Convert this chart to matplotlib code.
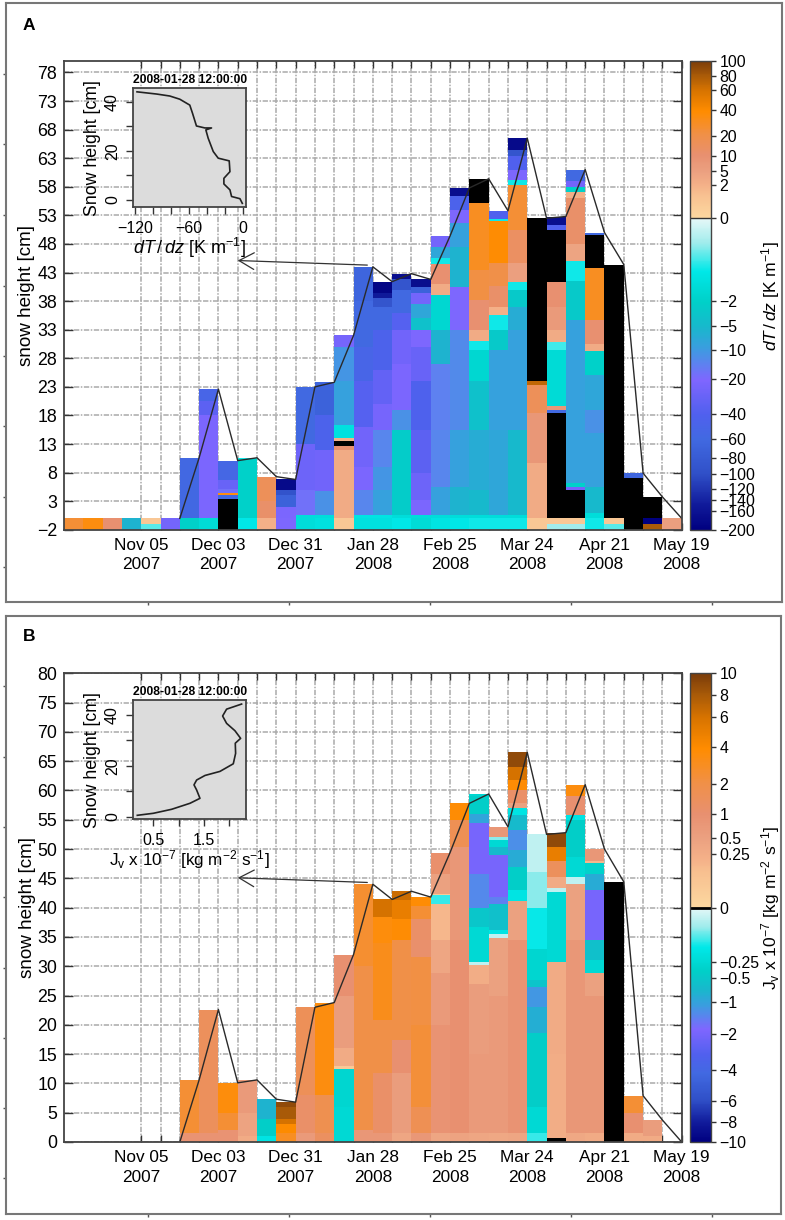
import numpy as np
import matplotlib
matplotlib.use('Agg')
import matplotlib.pyplot as plt
import matplotlib.dates as mdates
from matplotlib.colors import LinearSegmentedColormap, FuncNorm
from matplotlib.cm import ScalarMappable

plt.rcParams['font.family'] = ['Liberation Sans', 'DejaVu Sans']
plt.rcParams['mathtext.fontset'] = 'custom'
plt.rcParams['mathtext.rm'] = 'Liberation Sans'
plt.rcParams['mathtext.it'] = 'Liberation Sans:italic'
plt.rcParams['mathtext.bf'] = 'Liberation Sans:bold'

W, H = 785, 1220
nan = float('nan')

first_week = np.datetime64('2007-10-08')
date_ticks = ['2007-11-05', '2007-12-03', '2007-12-31', '2008-01-28',
              '2008-02-25', '2008-03-24', '2008-04-21', '2008-05-19']
date_labels = ['Nov 05\n2007', 'Dec 03\n2007', 'Dec 31\n2007', 'Jan 28\n2008',
               'Feb 25\n2008', 'Mar 24\n2008', 'Apr 21\n2008', 'May 19\n2008']

# snow height at end of each week
snow_height = [0, 0, 0, 0, 0, 0, 10.6, 22.6, 10.1, 10.6, 7.3, 6.8, 23, 23.8, 32, 44,
               41.4, 42.8, 41.8, 49.4, 57.8, 59.4, 53.8, 66.5, 52.5, 52.8, 61, 50,
               44.4, 7.9, 3.75, 0]

# every column: (top of layer in cm, value), nan = black
grad_cols = [
    [(0, 25)], [(0, 35)], [(0, 10)], [(0, -6)], [(-1, -0.9), (0, 1)], [(0, -25)],
    [(0, -2), (10.6, -58)],
    [(0, -1.7), (18, -22), (20.5, -35), (22.6, -50)],
    [(0, nan), (3.3, nan), (4, -60), (4.5, 35), (5.2, -18), (6.7, -30), (10.1, -55)],
    [(0, -1.3), (10.3, -2), (10.6, -1.2)],
    [(0, 2), (3, 12), (7.3, 16)],
    [(0, -20), (2, -22), (4, -70), (5, -95), (6.8, -180)],
    [(0, -1.6), (0.6, -1.6), (5, -18), (13, -28), (23, -60)],
    [(0, -1.5), (0.6, -1.6), (4.7, -12), (12, -26), (18, -45), (22.5, -70), (23.8, -65)],
    [(0, 1), (12, 3), (12.7, 10), (13.5, nan), (14, 2), (16.3, -1.5), (24, -9), (30, -11), (32, -24)],
    [(0, -1.5), (0.6, -1.4), (5, -14), (9, -22), (16, -26), (24, -38), (30, -50), (38, -60), (44, -65)],
    [(0, -1.5), (0.6, -1.4), (5, -9), (9, -11), (15.5, -14), (20, -24), (26, -32), (33, -45), (37, -60), (38.5, -90), (39.5, -150), (41.4, -190)],
    [(0, -1.3), (0.6, -1.6), (5.5, -2.5), (15.5, -2.5), (19, -12), (27, -22), (33, -26), (36, -38), (40, -60), (41.9, -90), (42.8, -170)],
    [(0, -1.7), (0.6, -1.6), (3.2, -22), (8, -28), (15.5, -35), (24, -42), (30, -30), (33, -20), (35, -4), (37.5, -8), (39.5, -25), (40.5, -70), (41.8, -170)],
    [(0, -1.4), (0.6, -1.6), (5.5, -9), (15.5, -14), (27, -15), (33, -6), (39, -1.8), (41, 3), (44.5, 10), (45.5, -1.2), (47.5, -8), (49.4, -25)],
    [(0, -1.3), (0.6, -1.6), (5.5, -6), (15.5, -9), (33, -13), (40.5, -20), (47.5, -6), (51.6, -9), (54, -20), (56.3, -45), (57.8, -170)],
    [(0, -1.2), (0.6, -1.6), (5, -5), (15.5, -7), (24, -4), (29.5, -1.8), (31, -1.2), (33, 3), (38.2, 10), (43.5, 22), (55.2, 30), (59.4, nan)],
    [(0, -1.2), (0.6, -1.6), (15.5, -8), (29.5, -9), (33, -3), (35.6, -1.2), (37, 2), (40.6, 12), (44.6, 20), (52, 38), (52.4, -1.2), (53.8, -40)],
    [(0, -1.2), (0.6, -1.6), (15.5, -5), (33, -9), (37, -7), (40, -3), (41.4, -1.2), (44.6, 5), (50.5, 14), (58.3, 25), (59.2, -1.2), (61, -20), (63.3, -40), (64.5, -90), (66.5, -180)],
    [(0, 1), (9.6, 3), (18.4, 8), (23.4, 16), (24, 70), (52.5, nan)],
    [(-1, -0.6), (0, 1), (18.5, nan), (19, -60), (19.6, 8), (29.5, -1.7), (30.9, -1), (33, 3), (37, 7), (41.4, 10), (50.5, nan), (51.3, -40), (52.8, -170)],
    [(-1, -0.6), (0, 1), (5, nan), (5.4, -25), (6.2, -2), (34.7, -9), (41.5, -3), (45, -1.2), (48, 4), (56, 12), (57, 2), (57.9, -2), (59, -25), (61, -60)],
    [(0, -1.2), (1, -1.6), (5.5, -5), (15, -9), (19, -12), (25, -8), (29.2, -2), (30.5, 3), (34.7, 10), (43.8, 30), (49.6, nan), (50, -60)],
    [(-1, -0.9), (0, 1), (44.4, nan)],
    [(0, nan), (7, nan), (7.9, -65)],
    [(-1, 80), (0, -200), (3.75, nan)],
    [(0, 5)],
]

flux_cols = [
    [], [], [], [], [], [],
    [(1.5, 0.9), (10.6, 2.5)],
    [(1.5, 0.9), (22.6, 1.5)],
    [(2, 0.9), (5, 2.5), (10.1, 3.6)],
    [(1, 0.3), (5, 0.45), (10.6, 0.7)],
    [(1, -0.2), (4, -0.4), (7.3, -0.8)],
    [(1.5, 3), (3, 4), (4, 6), (6, 8), (6.8, 9)],
    [(1.5, 0.7), (8, 1.2), (23, 1.6)],
    [(1.5, 1.4), (8, 1.8), (23.8, 3.5)],
    [(6, -0.25), (12.5, -0.3), (13, 0.1), (16, 0.3), (25, 0.6), (32, 1)],
    [(2, 0.8), (30, 2), (44, 2.6)],
    [(1.5, 0.8), (11.7, 1.2), (20.8, 2), (34, 3.2), (38.4, 3.6), (41.4, 6)],
    [(1.5, 0.4), (11.7, 0.6), (17.4, 1), (34.5, 2), (38, 3.8), (41.3, 5), (42.8, 6.5)],
    [(1.5, 0.8), (6, 1.7), (20, 2.4), (31.6, 2.1), (34.5, 1.1), (38, 1.2), (40.2, 2.5), (41.8, 3.8)],
    [(1.5, 0.4), (20, 0.9), (28.8, 0.7), (34.5, 0.4), (40.7, 0.2), (42.2, -0.15), (42.4, 0.1), (45.8, 0.5), (49.4, 1.1)],
    [(1.5, 0.45), (34.5, 1), (50.4, 0.8), (54.9, 1.7), (57.8, 3.8)],
    [(1.5, 0.4), (15, 0.7), (27, 0.6), (30.2, 0.25), (30.8, -0.05), (36.7, -0.25), (40, -0.5), (45.8, -1.4), (54.4, -2), (56, -1), (59, -0.4), (59.4, -0.3)],
    [(1.5, 0.35), (25, 0.7), (34.9, 0.5), (35.5, -0.05), (36.2, -0.2), (40.7, -0.6), (41.9, -1.5), (49, -2), (50.3, -0.7), (51.6, -0.25), (52.1, -0.1), (53.8, 0.8)],
    [(1.5, 0.4), (34.5, 0.9), (41.1, 0.5), (43, -0.2), (47, -0.4), (49.8, -0.9), (53.2, -1.3), (55.8, -0.7), (57, -0.2), (57.8, 0.5), (60, 1.2), (61.8, 3.8), (64, 6), (66.5, 9)],
    [(1.5, -0.15), (6, -0.25), (18.6, -0.42), (23, -0.85), (26.5, -1.2), (27.6, -0.55), (33, -0.3), (40, -0.18), (46, -0.1), (52.5, -0.05)],
    [(0.6, nan), (15, 0.25), (30.8, 0.3), (42.7, -0.25), (43.3, -0.05), (45.3, 0.3), (48, 1.5), (50.4, 5), (52.8, 9)],
    [(1.5, 0.35), (34.4, 0.8), (44.1, 0.5), (45.3, -0.05), (48.7, -0.25), (55, -0.4), (55.8, -0.2), (59, 1), (61, 3.5)],
    [(1.5, 0.3), (25, 0.8), (28.8, 0.5), (31, -0.25), (34.5, -0.6), (43, -2), (45.8, -0.9), (47.7, -0.35), (48, 0.2), (50, 0.8)],
    [(44.4, nan)],
    [(1.5, 0.3), (4.9, 1), (7.9, 2.5)],
    [(1, 0.3), (3.75, 0.6)],
    [],
]

# colorbar ticks, value and position on the bar (0 = bottom, 1 = top)
grad_ticks = [-200, -160, -140, -120, -100, -80, -60, -40, -20, -10, -5, -2, 0, 2, 5, 10, 20, 40, 60, 80, 100]
grad_labels = ['−200', '−160', '−140', '−120', '−100', '−80', '−60', '−40', '−20', '−10', '−5', '−2',
               '0', '2', '5', '10', '20', '40', '60', '80', '100']
grad_pos = [0, .040, .064, .088, .120, .153, .193, .247, .321, .384, .434, .487, .665, .736, .766, .797, .840, .895, .937, .968, 1]
flux_ticks = [-10, -8, -6, -4, -2, -1, -0.5, -0.25, 0, 0.25, 0.5, 1, 2, 4, 6, 8, 10]
flux_labels = ['−10', '−8', '−6', '−4', '−2', '−1', '−0.5', '−0.25', '0', '0.25', '0.5', '1', '2', '4', '6', '8', '10']
flux_pos = [0, .043, .088, .153, .231, .299, .349, .384, .5, .614, .648, .700, .764, .843, .907, .954, 1]

# color ramps on each side of zero, position from zero outwards
neg_ramp = [(0, '#e8f8f8'), (.08, '#a0ecec'), (.17, '#00e8e8'), (.27, '#00d0c8'), (.35, '#18b8cc'),
            (.42, '#3c9ce0'), (.52, '#7f66ff'), (.63, '#5060ee'), (.71, '#4169e1'), (.82, '#3050c8'),
            (.92, '#101a9a'), (1, '#000080')]
pos_ramp = [(0, '#fcd8a0'), (.15, '#f8c090'), (.21, '#f4b088'), (.30, '#eba080'), (.40, '#e89070'),
            (.53, '#f09048'), (.68, '#ff8c00'), (.81, '#d87400'), (.91, '#a85a08'), (1, '#7a3c0a')]

profile_grad = [-117.8, -96, -81.5, -70.4, -59.3, -56.3, -51.9, -42.6, -35.2, -41.5, -38.9, -33.3, -27.8,
                -15.6, -14.8, -21.5, -21.5, -14.8, -13, -3.7, -1.1]
profile_grad_h = [44, 43.1, 42.3, 41, 38.6, 35.3, 30.1, 29.3, 29.3, 28.5, 25.1, 19.7, 17,
                  15.9, 11.5, 8.8, 6.5, 4.1, 1.4, .5, -1.4]
profile_flux = [.184, .5, .862, 1.224, 1.421, 1.355, 1.303, 1.355, 1.52, 1.816, 2.079, 2.125, 2.118,
                2.224, 2.112, 1.947, 1.868, 1.947, 2.243]
profile_flux_h = [.52, 1.31, 2.89, 5.25, 7.2, 10.5, 12.5, 14.4, 16.2, 17.8, 20.8, 24.9, 28.9,
                  30.8, 33.8, 36.7, 39.6, 42.3, 44.3]


def px_axes(fig, x0, y0, x1, y1, **kw):
    return fig.add_axes([x0 / W, 1 - y1 / H, (x1 - x0) / W, (y1 - y0) / H], **kw)


def make_cmap(zero):
    stops = [(zero * (1 - u), c) for u, c in neg_ramp[::-1]]
    stops += [(zero + (1 - zero) * u, c) for u, c in pos_ramp]
    cmap = LinearSegmentedColormap.from_list('snow', stops, N=512)
    cmap.set_bad('black')
    return cmap


def make_norm(vals, pos):
    return FuncNorm((lambda v: np.interp(v, vals, pos), lambda p: np.interp(p, pos, vals)),
                    vmin=vals[0], vmax=vals[-1])


def outer_frame(fig, x0, y0, x1, y1, yt):
    fr = px_axes(fig, x0, y0, x1, y1, facecolor='none', zorder=0)
    fr.set_xlim(x0, x1)
    fr.set_ylim(y1, y0)
    fr.set_xticks([147.7, 288.7, 429.7, 570.7, 711.7])
    fr.set_yticks(yt)
    fr.set_xticklabels([])
    fr.set_yticklabels([])
    fr.tick_params(length=2.5, width=1, color='#555555')
    for s in fr.spines.values():
        s.set_color('#777777')
        s.set_linewidth(1.5)


def main_panel(fig, y0, y1, ylim, yticks, cols, base, cmap, norm):
    ax = px_axes(fig, 64, y0, 681.7, y1, zorder=2)
    week = mdates.date2num(first_week) + 7 * np.arange(33)
    for i, col in enumerate(cols):
        if not col:
            continue
        edges = [base] + [c[0] for c in col]
        vals = np.ma.masked_invalid(np.array([c[1] for c in col], dtype=float).reshape(-1, 1))
        ax.pcolormesh(week[i:i + 2], edges, vals, cmap=cmap, norm=norm, antialiased=False, zorder=2)
    ax.plot(week[6:], [0] + snow_height[6:], color='#2a2a2a', lw=1.0, zorder=3)
    ax.set_xlim(week[0], week[-1])
    ax.set_ylim(*ylim)
    ax.set_yticks(yticks)
    ax.set_xticks(mdates.date2num(np.array(date_ticks, dtype='datetime64[D]')))
    ax.set_xticklabels(date_labels, fontsize=12.4, linespacing=1.35)
    ax.set_xticks(week[4:], minor=True)
    ax.tick_params(axis='x', which='both', direction='in', top=True, length=5, width=1, color='#333333', pad=6)
    ax.tick_params(axis='y', direction='in', right=True, length=6.5, width=1, color='#333333', labelsize=12.8, pad=5)
    ax.grid(True, which='both', color='#aaaaaa', linestyle=(0, (3.5, 1, 1, 1)), lw=1.1, zorder=1)
    ax.set_axisbelow(True)
    ax.set_ylabel('snow height [cm]', fontsize=13.6, labelpad=1)
    for s in ax.spines.values():
        s.set_color('#444444')
        s.set_linewidth(1.3)
        s.set_zorder(4)
    return ax


def add_colorbar(fig, y0, y1, ticks, labels, cmap, norm, label, lab_y):
    cax = px_axes(fig, 690, y0, 711, y1, zorder=2)
    cb = fig.colorbar(ScalarMappable(norm=norm, cmap=cmap), cax=cax)
    cb.minorticks_off()
    cb.set_ticks(ticks, labels=labels)
    cb.ax.tick_params(length=3.5, width=1, color='#333333', labelsize=11.4, pad=2.5)
    cb.outline.set_edgecolor('#444444')
    cb.outline.set_linewidth(1)
    fig.text(771 / W, 1 - lab_y / H, label, rotation=90, ha='center', va='center', fontsize=12.6)
    return cb


def inset(fig, y0, y1, x, h, xlim, ylim, xt, xt_major, xlabel, xlab_size):
    ia = px_axes(fig, 133.3, y0, 246, y1, facecolor='#dcdcdc', zorder=3)
    ia.plot(x, h, color='#222222', lw=1.2)
    ia.set_xlim(*xlim)
    ia.set_ylim(*ylim)
    ia.set_xticks(xt)
    ia.set_xticklabels(xt_major, fontsize=11.5)
    ia.set_yticks([0, 10, 20, 30, 40])
    ia.set_yticklabels(['0', '', '20', '', '40'], fontsize=11.5, rotation=90, va='center')
    ia.tick_params(direction='out', length=5, width=1, color='#333333', pad=5)
    ia.tick_params(axis='y', pad=4.5)
    ia.set_title('2008-01-28 12:00:00', fontsize=8.7, fontweight='bold', pad=3.5)
    ia.set_xlabel(xlabel, fontsize=xlab_size, labelpad=0)
    ia.set_ylabel('Snow height [cm]', fontsize=12.8, labelpad=3)
    for s in ia.spines.values():
        s.set_color('#444444')
        s.set_linewidth(1.3)
    return ia


fig = plt.figure(figsize=(W / 100, H / 100), dpi=100)

outer_frame(fig, 6, 3, 781.7, 601.7, [74, 144, 215, 285.7, 356, 426, 496.7, 566.7])
outer_frame(fig, 6, 615.7, 780.7, 1214, [686, 756.7, 826.7, 896.7, 968, 1038, 1108, 1178])

fig.text(29 / W, 1 - 26 / H, 'A', fontsize=12.5, fontweight='bold', ha='center', va='center')
fig.text(29 / W, 1 - 637 / H, 'B', fontsize=12.5, fontweight='bold', ha='center', va='center')

# panel A
cm_a = make_cmap(grad_pos[grad_ticks.index(0)])
nm_a = make_norm(grad_ticks, grad_pos)
ax_a = main_panel(fig, 61, 529.8, (-2, 80), np.arange(-2, 79, 5), grad_cols, -2, cm_a, nm_a)
cb_a = add_colorbar(fig, 60.7, 530, grad_ticks, grad_labels, cm_a, nm_a,
                    r'$dT\,/\,dz$ [K m$^{-1}$]', 296)
cb_a.ax.axhline(0, color='#333333', lw=1)
inset(fig, 88, 207.3, profile_grad, profile_grad_h, (-121.9, 3), (-3, 45.56),
      [-120, -100, -80, -60, -40, -20, 0], ['−120', '', '', '−60', '', '', '0'],
      r'$dT\,/\,dz$ [K m$^{-1}$]', 13)

# panel B
cm_b = make_cmap(flux_pos[flux_ticks.index(0)])
nm_b = make_norm(flux_ticks, flux_pos)
ax_b = main_panel(fig, 673.3, 1142, (0, 80), np.arange(0, 81, 5), flux_cols, 0, cm_b, nm_b)
cb_b = add_colorbar(fig, 673.3, 1142, flux_ticks, flux_labels, cm_b, nm_b,
                    r'J$_{\mathrm{v}}$ x 10$^{-7}$ [kg m$^{-2}$ s$^{-1}$]', 908)
cb_b.ax.axhline(0, color='black', lw=2)
inset(fig, 700, 819.3, profile_flux, profile_flux_h, (0.105, 2.33), (-1.05, 45.9),
      [.5, 1, 1.5, 2], ['0.5', '', '1.5', ''],
      r'J$_{\mathrm{v}}$ x 10$^{-7}$ [kg m$^{-2}$ s$^{-1}$]', 12.3)

# arrow from the sampled date to the insets
tip = mdates.date2num(np.datetime64('2007-12-10'))
tail = mdates.date2num(np.datetime64('2008-01-26'))
for ax in (ax_a, ax_b):
    ax.annotate('', xy=(tip, 45.1), xytext=(tail, 44.3), zorder=5,
                arrowprops=dict(arrowstyle='->,head_length=1.08,head_width=0.6', mutation_scale=10,
                                color='#333333', lw=0.9, shrinkA=0, shrinkB=0))

fig.savefig('out.png', dpi=100)
